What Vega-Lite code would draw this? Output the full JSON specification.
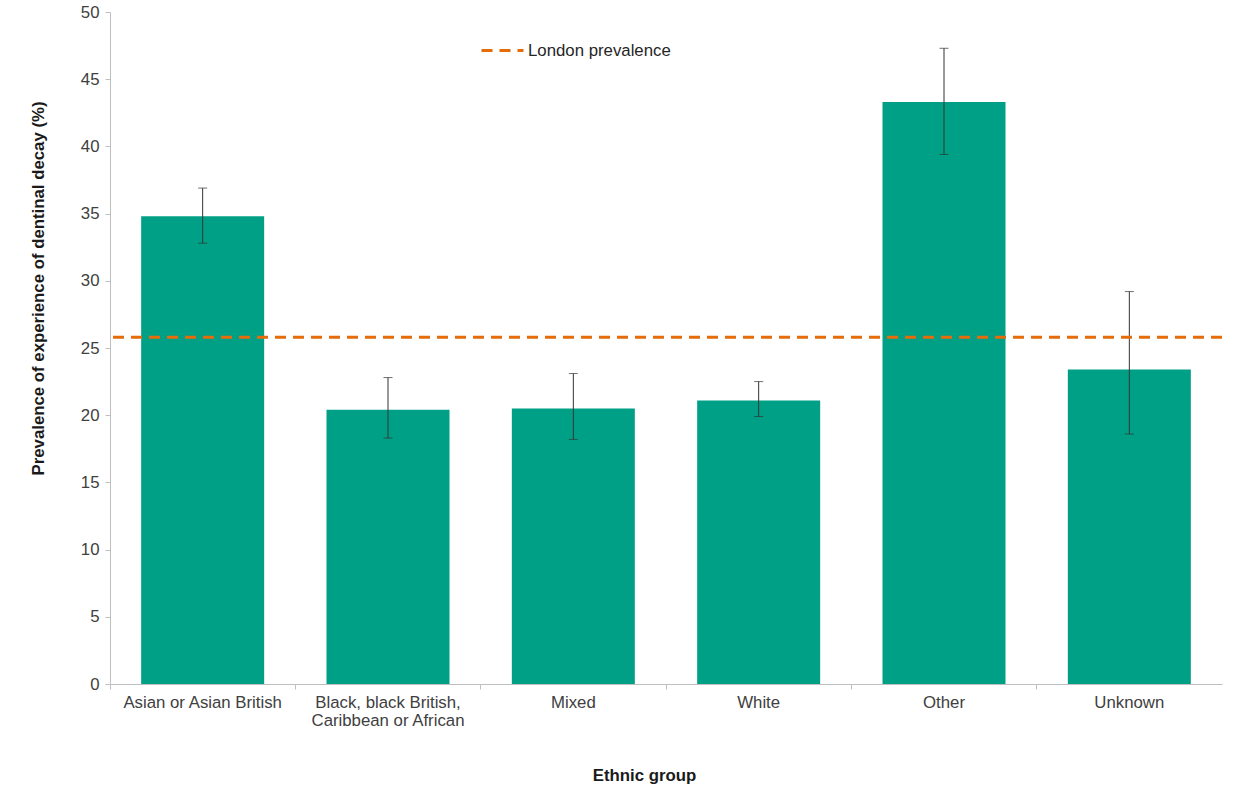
{
  "$schema": "https://vega.github.io/schema/vega-lite/v6.json",
  "width": 1112,
  "height": 672,
  "autosize": {"type": "none"},
  "padding": {"left": 110, "top": 12, "right": 13, "bottom": 102},
  "background": "white",
  "config": {
    "font": "Liberation Sans",
    "view": {"stroke": null},
    "axis": {
      "domainColor": "#bfbfbf",
      "tickColor": "#bfbfbf",
      "labelColor": "#404040",
      "labelFontSize": 16.8,
      "titleFontSize": 16.8,
      "titleFontWeight": "bold",
      "titleColor": "#1a1a1a",
      "grid": false
    }
  },
  "datasets": {
    "groups": [
      {"group": "Asian or Asian British", "prevalence": 34.8, "lower": 32.8, "upper": 36.9},
      {"group": "Black, black British, Caribbean or African", "prevalence": 20.4, "lower": 18.3, "upper": 22.8},
      {"group": "Mixed", "prevalence": 20.5, "lower": 18.2, "upper": 23.1},
      {"group": "White", "prevalence": 21.1, "lower": 19.9, "upper": 22.5},
      {"group": "Other", "prevalence": 43.3, "lower": 39.4, "upper": 47.3},
      {"group": "Unknown", "prevalence": 23.4, "lower": 18.6, "upper": 29.2}
    ],
    "london": [{"series": "London prevalence", "value": 25.8}]
  },
  "data": {"name": "groups"},
  "layer": [
    {
      "mark": {"type": "bar", "color": "#00a086", "width": 123},
      "encoding": {
        "x": {
          "field": "group",
          "type": "nominal",
          "sort": null,
          "scale": {"paddingInner": 0, "paddingOuter": 0},
          "axis": {
            "title": "Ethnic group",
            "labelAngle": 0,
            "labelPadding": 5,
            "labelLineHeight": 18,
            "bandPosition": 0,
            "tickSize": 5,
            "labelExpr": "datum.label == 'Black, black British, Caribbean or African' ? ['Black, black British,', 'Caribbean or African'] : datum.label",
            "titleX": 534,
            "titleY": 91,
            "titleBaseline": "middle"
          }
        },
        "y": {
          "field": "prevalence",
          "type": "quantitative",
          "scale": {"domain": [0, 50], "nice": false},
          "axis": {
            "title": "Prevalence of experience of dentinal decay (%)",
            "values": [0, 5, 10, 15, 20, 25, 30, 35, 40, 45, 50],
            "tickSize": 5,
            "labelPadding": 6,
            "titleX": -72,
            "titleY": 276,
            "titleBaseline": "middle"
          }
        }
      }
    },
    {
      "mark": {"type": "rule", "color": "#333333", "strokeWidth": 1},
      "encoding": {
        "x": {"field": "group", "type": "nominal", "sort": null},
        "y": {"field": "lower", "type": "quantitative"},
        "y2": {"field": "upper"}
      }
    },
    {
      "mark": {"type": "tick", "color": "#333333", "orient": "horizontal", "size": 9, "thickness": 1},
      "encoding": {
        "x": {"field": "group", "type": "nominal", "sort": null},
        "y": {"field": "lower", "type": "quantitative"}
      }
    },
    {
      "mark": {"type": "tick", "color": "#333333", "orient": "horizontal", "size": 9, "thickness": 1},
      "encoding": {
        "x": {"field": "group", "type": "nominal", "sort": null},
        "y": {"field": "upper", "type": "quantitative"}
      }
    },
    {
      "data": {"name": "london"},
      "mark": {"type": "rule", "strokeWidth": 3, "strokeDash": [11, 7]},
      "encoding": {
        "y": {"field": "value", "type": "quantitative"},
        "color": {
          "field": "series",
          "type": "nominal",
          "scale": {"range": ["#e46c0a"]},
          "legend": {
            "title": null,
            "orient": "none",
            "legendX": 370,
            "legendY": 16,
            "symbolType": "stroke",
            "symbolSize": 1764,
            "symbolStrokeWidth": 3,
            "symbolDash": [11, 7],
            "labelFontSize": 16.8,
            "labelColor": "#262626",
            "labelOffset": 3
          }
        }
      }
    }
  ]
}
